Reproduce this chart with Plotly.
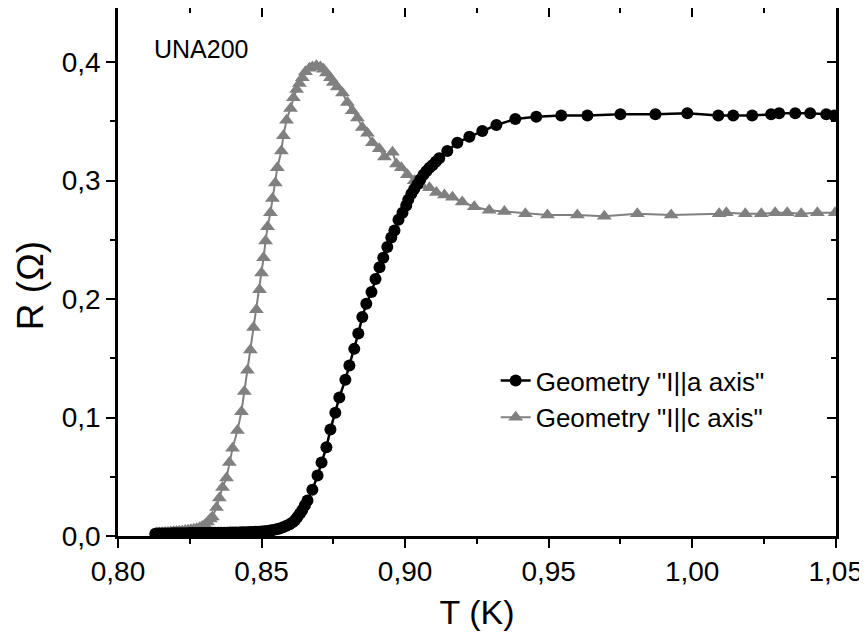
import plotly.graph_objects as go

# ---- data ----
a_T = [0.8130, 0.8140, 0.8150, 0.8160, 0.8170, 0.8180, 0.8190, 0.8200, 0.8210, 0.8220,
       0.8230, 0.8240, 0.8250, 0.8260, 0.8270, 0.8280, 0.8290, 0.8300, 0.8310, 0.8320,
       0.8330, 0.8340, 0.8350, 0.8360, 0.8370, 0.8380, 0.8390, 0.8400, 0.8410, 0.8420,
       0.8430, 0.8440, 0.8450, 0.8460, 0.8470, 0.8480, 0.8490, 0.8500, 0.8510, 0.8520,
       0.8530, 0.8540, 0.8552, 0.8563, 0.8575, 0.8587, 0.8598, 0.8608, 0.8617, 0.8625,
       0.8634, 0.8642, 0.8651, 0.8660, 0.8677, 0.8695, 0.8709, 0.8726, 0.8740, 0.8757,
       0.8771, 0.8792, 0.8806, 0.8823, 0.8837, 0.8851, 0.8865, 0.8883, 0.8897, 0.8911,
       0.8924, 0.8938, 0.8952, 0.8963, 0.8977, 0.8991, 0.9004, 0.9011, 0.9022, 0.9032,
       0.9043, 0.9053, 0.9064, 0.9074, 0.9085, 0.9095, 0.9107, 0.9119, 0.9147, 0.9182,
       0.9224, 0.9269, 0.9318, 0.9384, 0.9457, 0.9544, 0.9635, 0.9750, 0.9872, 0.9983,
       1.0091, 1.0143, 1.0209, 1.0275, 1.0303, 1.0359, 1.0411, 1.0467, 1.0495]
a_R = [0.0020, 0.0021, 0.0021, 0.0022, 0.0022, 0.0022, 0.0023, 0.0023, 0.0023, 0.0024,
       0.0024, 0.0024, 0.0025, 0.0025, 0.0025, 0.0025, 0.0026, 0.0026, 0.0026, 0.0026,
       0.0027, 0.0027, 0.0027, 0.0028, 0.0028, 0.0028, 0.0029, 0.0029, 0.0030, 0.0030,
       0.0031, 0.0031, 0.0032, 0.0033, 0.0034, 0.0035, 0.0036, 0.0038, 0.0040, 0.0043,
       0.0046, 0.0050, 0.0056, 0.0064, 0.0074, 0.0086, 0.0100, 0.0115, 0.0135, 0.0160,
       0.0190, 0.0220, 0.0260, 0.0300, 0.0390, 0.0510, 0.0620, 0.0750, 0.0900, 0.1040,
       0.1170, 0.1320, 0.1440, 0.1580, 0.1710, 0.1850, 0.1960, 0.2060, 0.2170, 0.2270,
       0.2350, 0.2440, 0.2520, 0.2580, 0.2670, 0.2730, 0.2790, 0.2840, 0.2890, 0.2930,
       0.2970, 0.3010, 0.3050, 0.3080, 0.3110, 0.3130, 0.3160, 0.3190, 0.3250, 0.3320,
       0.3370, 0.3420, 0.3470, 0.3520, 0.3540, 0.3550, 0.3550, 0.3560, 0.3560, 0.3570,
       0.3550, 0.3550, 0.3550, 0.3560, 0.3570, 0.3570, 0.3570, 0.3560, 0.3550]

c_T = [0.8134, 0.8144, 0.8154, 0.8164, 0.8174, 0.8184, 0.8194, 0.8204, 0.8214, 0.8224,
       0.8234, 0.8244, 0.8254, 0.8264, 0.8274, 0.8284, 0.8293, 0.8303, 0.8312, 0.8322,
       0.8329, 0.8343, 0.8353, 0.8364, 0.8378, 0.8388, 0.8399, 0.8416, 0.8430, 0.8440,
       0.8451, 0.8461, 0.8472, 0.8482, 0.8493, 0.8500, 0.8507, 0.8514, 0.8521, 0.8531,
       0.8538, 0.8548, 0.8555, 0.8569, 0.8576, 0.8587, 0.8601, 0.8611, 0.8622, 0.8632,
       0.8642, 0.8653, 0.8667, 0.8677, 0.8691, 0.8705, 0.8716, 0.8726, 0.8740, 0.8750,
       0.8764, 0.8782, 0.8799, 0.8816, 0.8834, 0.8851, 0.8869, 0.8886, 0.8910, 0.8928,
       0.8956, 0.8970, 0.8987, 0.9008, 0.9032, 0.9057, 0.9085, 0.9109, 0.9137, 0.9165,
       0.9199, 0.9241, 0.9293, 0.9346, 0.9419, 0.9496, 0.9600, 0.9694, 0.9809, 0.9927,
       1.0094, 1.0119, 1.0185, 1.0241, 1.0289, 1.0331, 1.0380, 1.0436, 1.0498]
c_R = [0.0025, 0.0026, 0.0027, 0.0029, 0.0031, 0.0033, 0.0035, 0.0037, 0.0040, 0.0043,
       0.0046, 0.0049, 0.0052, 0.0056, 0.0062, 0.0070, 0.0080, 0.0095, 0.0118, 0.0143,
       0.0160, 0.0240, 0.0320, 0.0410, 0.0490, 0.0620, 0.0740, 0.0890, 0.1050, 0.1220,
       0.1400, 0.1570, 0.1760, 0.1910, 0.2080, 0.2220, 0.2350, 0.2490, 0.2610, 0.2730,
       0.2850, 0.2980, 0.3110, 0.3250, 0.3380, 0.3510, 0.3610, 0.3700, 0.3770, 0.3820,
       0.3870, 0.3920, 0.3950, 0.3960, 0.3970, 0.3960, 0.3940, 0.3910, 0.3870, 0.3830,
       0.3790, 0.3740, 0.3660, 0.3590, 0.3530, 0.3450, 0.3400, 0.3320, 0.3270, 0.3200,
       0.3240, 0.3140, 0.3110, 0.3050, 0.3000, 0.2960, 0.2940, 0.2900, 0.2880, 0.2860,
       0.2820, 0.2780, 0.2750, 0.2740, 0.2720, 0.2710, 0.2710, 0.2700, 0.2720, 0.2710,
       0.2720, 0.2730, 0.2720, 0.2720, 0.2730, 0.2730, 0.2720, 0.2730, 0.2730]

series_names = ['Geometry "I||a axis"', 'Geometry "I||c axis"']
sample_label = "UNA200"
x_title = "T (K)"
y_title = "R (\u03a9)"
x_ticks = [0.80, 0.85, 0.90, 0.95, 1.00, 1.05]
x_minor = [0.825, 0.875, 0.925, 0.975, 1.025]
y_ticks = [0.0, 0.1, 0.2, 0.3, 0.4]
y_minor = [0.05, 0.15, 0.25, 0.35]
x_range = [0.80, 1.0501]
y_range = [0.0, 0.4458]

FONT = "Liberation Sans, Arial, sans-serif"

fig = go.Figure()
fig.add_trace(go.Scatter(
    x=c_T, y=c_R, mode="lines+markers", name=series_names[1], legendrank=2,
    line=dict(color="#808080", width=2),
    marker=dict(symbol="triangle-up", size=13, color="#808080"),
))
fig.add_trace(go.Scatter(
    x=a_T, y=a_R, mode="lines+markers", name=series_names[0], legendrank=1,
    line=dict(color="#000000", width=2.5),
    marker=dict(symbol="circle", size=12, color="#000000"),
))
# helper trace so the mirrored (top/right) axes get drawn
fig.add_trace(go.Scatter(x=[None], y=[None], xaxis="x2", yaxis="y2",
                         showlegend=False, hoverinfo="skip"))

axis_common = dict(showline=True, linecolor="black", linewidth=2.5,
                   showgrid=False, zeroline=False, ticklen=9, tickwidth=2,
                   tickcolor="black")

fig.update_layout(
    width=859, height=623,
    margin=dict(l=110, r=31, t=0, b=95),
    paper_bgcolor="white", plot_bgcolor="white",
    separators=", ",
    font=dict(family=FONT, color="black"),
    xaxis=dict(range=x_range, tickmode="array", tickvals=x_ticks, tickformat=".2f",
               ticks="outside",
               minor=dict(ticks="outside", tickmode="array", tickvals=x_minor,
                          ticklen=5, tickwidth=2, tickcolor="black"),
               tickfont=dict(family=FONT, size=28),
               title=dict(text=x_title, font=dict(family=FONT, size=34), standoff=14),
               **axis_common),
    yaxis=dict(range=y_range, tickmode="array", tickvals=y_ticks, tickformat=".1f",
               ticks="outside",
               minor=dict(ticks="outside", tickmode="array", tickvals=y_minor,
                          ticklen=5, tickwidth=2, tickcolor="black"),
               tickfont=dict(family=FONT, size=28),
               **axis_common),
    xaxis2=dict(overlaying="x", side="top", range=x_range, tickmode="array", tickvals=x_ticks,
                ticks="inside", showticklabels=False,
                minor=dict(ticks="inside", tickmode="array", tickvals=x_minor,
                           ticklen=5, tickwidth=2, tickcolor="black"),
                **axis_common),
    yaxis2=dict(overlaying="y", side="right", range=y_range, tickmode="array", tickvals=y_ticks,
                ticks="inside", showticklabels=False,
                minor=dict(ticks="inside", tickmode="array", tickvals=y_minor,
                           ticklen=5, tickwidth=2, tickcolor="black"),
                **axis_common),
    legend=dict(x=0.526, y=0.339, xanchor="left", yanchor="top",
                bgcolor="rgba(0,0,0,0)", font=dict(family=FONT, size=26),
                tracegroupgap=0, itemwidth=30),
    annotations=[
        dict(text=sample_label, xref="paper", yref="paper",
             x=0.047, y=0.922, xanchor="left", yanchor="middle",
             showarrow=False, font=dict(family=FONT, size=25)),
        dict(text=y_title, xref="paper", yref="paper", textangle=-90,
             x=-0.1226, y=0.475, xanchor="center", yanchor="middle",
             showarrow=False, font=dict(family=FONT, size=37)),
    ],
)

fig.write_html("out.html")
